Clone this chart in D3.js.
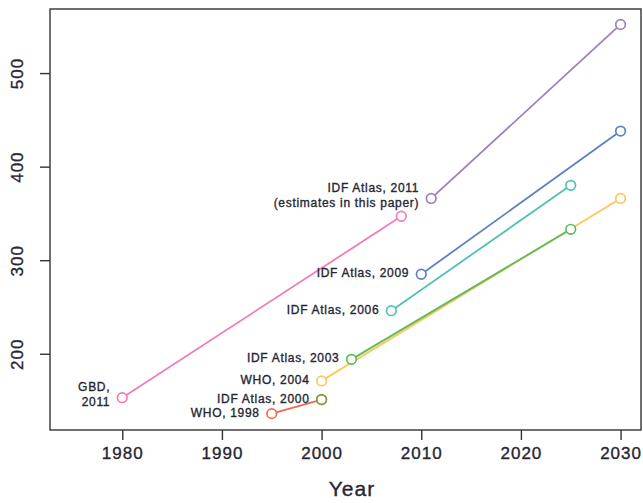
<!DOCTYPE html>
<html>
<head>
<meta charset="utf-8">
<script src="https://cdn.jsdelivr.net/npm/d3@7"></script>
<style>
  html, body { margin: 0; padding: 0; background: #fff; }
  svg { display: block; }
  text { font-family: "Liberation Sans", Arial, Helvetica, sans-serif; fill: #262634; stroke: #262634; stroke-width: 0.35px; }
</style>
</head>
<body>
<svg id="chart" width="643" height="503"></svg>
<script>
// ---- data ----
const sources = ["GBD, 2011", "IDF Atlas, 2011", "IDF Atlas, 2009", "IDF Atlas, 2006",
                 "IDF Atlas, 2003", "WHO, 2004", "IDF Atlas, 2000", "WHO, 1998"];
const labelLines = [["GBD,", "2011"], ["IDF Atlas, 2011", "(estimates in this paper)"],
                    ["IDF Atlas, 2009"], ["IDF Atlas, 2006"], ["IDF Atlas, 2003"],
                    ["WHO, 2004"], ["IDF Atlas, 2000"], ["WHO, 1998"]];
const startYears  = [1980, 2011, 2010, 2007, 2003, 2000, 2000, 1995];
const startValues = [153, 366, 285, 246, 194, 171, 151, 136];
const endYears    = [2008, 2030, 2030, 2025, 2025, 2030, null, 2000];
const endValues   = [347, 552, 438, 380, 333, 366, null, 151];
const colors      = ["#F07CB8", "#9C80C0", "#5C80C2", "#4EC2B2", "#5EBB58", "#FDC75C", "#7E9C3C", "#EE6A50"];
const xTicks = [1980, 1990, 2000, 2010, 2020, 2030];
const yTicks = [200, 300, 400, 500];
const xTitle = "Year";

// ---- layout ----
const svg = d3.select("#chart");
const box = { left: 50, right: 641, top: 9, bottom: 430 };
const x = d3.scaleLinear().domain([1972.75, 2032.05]).range([box.left, box.right]);
const y = d3.scaleLinear().domain([118.5, 568.5]).range([box.bottom, box.top]);

// frame
svg.append("rect")
  .attr("x", box.left).attr("y", box.top)
  .attr("width", box.right - box.left).attr("height", box.bottom - box.top)
  .attr("fill", "none").attr("stroke", "#333").attr("stroke-width", 1.4);

// x axis
const xAxis = d3.axisBottom(x).tickValues(xTicks).tickFormat(d3.format("d"))
  .tickSize(10).tickPadding(4);
const gx = svg.append("g").attr("transform", `translate(0,${box.bottom})`).call(xAxis);
gx.select(".domain").remove();
gx.selectAll(".tick line").attr("stroke", "#333").attr("stroke-width", 1.4);
gx.selectAll(".tick text").attr("font-size", 17).attr("letter-spacing", 1)
  .attr("fill", "#262634").attr("dy", "0.9em");

// y axis
const yAxis = d3.axisLeft(y).tickValues(yTicks).tickFormat(d3.format("d"))
  .tickSize(10).tickPadding(0);
const gy = svg.append("g").attr("transform", `translate(${box.left},0)`).call(yAxis);
gy.select(".domain").remove();
gy.selectAll(".tick line").attr("stroke", "#333").attr("stroke-width", 1.4);
gy.selectAll(".tick text").attr("font-size", 17).attr("letter-spacing", 1)
  .attr("fill", "#262634")
  .attr("x", null).attr("dy", null)
  .attr("text-anchor", "middle")
  .attr("transform", "translate(-27,0) rotate(-90)");

// x title
svg.append("text").attr("x", 352).attr("y", 496)
  .attr("text-anchor", "middle").attr("font-size", 21).attr("letter-spacing", 1)
  .text(xTitle);

// ---- series ----
const order = d3.range(sources.length).reverse();
const g = svg.append("g");
order.forEach(i => {
  const pts = [[startYears[i], startValues[i]]];
  if (endYears[i] !== null) pts.push([endYears[i], endValues[i]]);
  if (pts.length > 1) {
    g.append("path")
      .attr("d", d3.line().x(d => x(d[0])).y(d => y(d[1]))(pts))
      .attr("fill", "none").attr("stroke", colors[i]).attr("stroke-width", 1.8);
  }
  g.selectAll(null).data(pts).enter().append("circle")
    .attr("cx", d => x(d[0])).attr("cy", d => y(d[1])).attr("r", 4.8)
    .attr("fill", "#fff").attr("stroke", colors[i]).attr("stroke-width", 1.7);
});

// labels
sources.forEach((s, i) => {
  const cx = x(startYears[i]), cy = y(startValues[i]);
  const lines = labelLines[i];
  const spacing = 15.5;
  const y0 = lines.length > 1 ? cy - 3 - spacing / 2 : cy - 1;
  const t = svg.append("text").attr("text-anchor", "end")
    .attr("font-size", 12).attr("letter-spacing", 0.7);
  lines.forEach((ln, k) => {
    t.append("tspan").attr("x", cx - 12).attr("y", y0 + k * spacing)
      .attr("dominant-baseline", "central").text(ln);
  });
});
</script>
</body>
</html>
